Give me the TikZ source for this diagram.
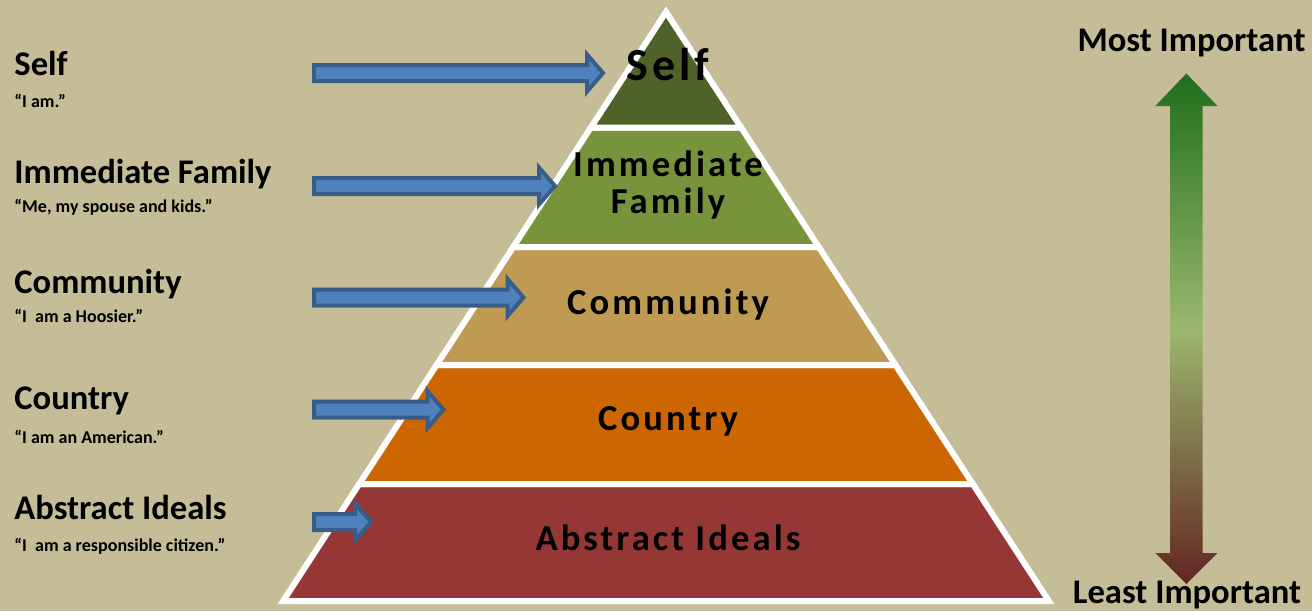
\documentclass[tikz,border=0pt]{standalone}
\usepackage{fontspec}
\setmainfont{Carlito}
\newfontfamily\pyrfont[LetterSpace=8.5]{Carlito}
\definecolor{bg}{RGB}{196,189,151}
\definecolor{cself}{RGB}{79,98,40}
\definecolor{cfam}{RGB}{119,147,60}
\definecolor{ccom}{RGB}{190,154,82}
\definecolor{ccty}{RGB}{204,102,0}
\definecolor{cabs}{RGB}{149,55,53}
\definecolor{bfill}{RGB}{79,129,189}
\definecolor{bline}{RGB}{56,93,138}
\definecolor{gtop}{RGB}{31,110,27}
\definecolor{gmid}{RGB}{155,183,111}
\definecolor{gbot}{RGB}{98,38,34}
\tikzset{
  layer/.style={draw=white, line width=3pt, line join=miter},
  blockarrow/.style={fill=bfill, draw=bline, line width=2pt, line join=miter},
  head/.style={font=\bfseries\fontsize{17.3}{20}\selectfont, anchor=base west, inner sep=0pt},
  sub/.style={font=\bfseries\fontsize{9}{11}\selectfont, anchor=base west, inner sep=0pt},
  side/.style={font=\bfseries\fontsize{17.3}{20}\selectfont, anchor=base, inner sep=0pt},
  pyr/.style={font=\pyrfont\bfseries\fontsize{18.3}{21}\selectfont, anchor=base, inner sep=0pt, text=black},
}
\newcommand{\blockarr}[3]{%
  \coordinate (#3) at (#2-3,#1);
  \draw[blockarrow] (314,#1-8) -- (#2-19,#1-8) -- (#2-19,#1-18.5) -- (#3)
    -- (#2-19,#1+18.5) -- (#2-19,#1+8) -- (314,#1+8) -- cycle;}
\begin{document}
\begin{tikzpicture}[x=0.5pt,y=-0.5pt]
\fill[bg] (0,0) rectangle (1312,611);
\useasboundingbox (0,0) rectangle (1312,611);
% pyramid layers
\filldraw[layer, fill=cabs] (359.2,484) -- (972.8,484) -- (1048.85,601) -- (283.15,601) -- cycle;
\filldraw[layer, fill=ccty] (436.55,365) -- (895.45,365) -- (972.8,484) -- (359.2,484) -- cycle;
\filldraw[layer, fill=ccom] (513.25,247) -- (818.75,247) -- (895.45,365) -- (436.55,365) -- cycle;
\filldraw[layer, fill=cfam] (590.9,127.5) -- (741.1,127.5) -- (818.75,247) -- (513.25,247) -- cycle;
\filldraw[layer, fill=cself] (666,12) -- (741.1,127.5) -- (590.9,127.5) -- cycle;
% blue arrows
\blockarr{73}{606}{a1}
\blockarr{186}{558}{a2}
\blockarr{297.5}{526.5}{a3}
\blockarr{409.7}{446.5}{a4}
\blockarr{522}{374}{a5}
% pyramid texts
\node[pyr, font=\pyrfont\bfseries\fontsize{23}{26}\selectfont] (pself) at (668,80) {Self};
\node[pyr] (pfam1) at (668,176.7) {Immediate};
\node[pyr] (pfam2) at (668,213) {Family};
\node[pyr] (pcom) at (668,314) {Community};
\node[pyr] (pcty) at (668,430) {Country};
\node[pyr] (pabs) at (668,550) {Abstract Ideals};
% left labels
\node[head] (lself) at (14,75) {Self};
\node[sub] (sself) at (14,107) {“I am.”};
\node[head] (lfam) at (14,183) {Immediate Family};
\node[sub] (sfam) at (14,212) {“Me, my spouse and kids.”};
\node[head] (lcom) at (14,293.5) {Community};
\node[sub] (scom) at (14,322) {“I\ \ am a Hoosier.”};
\node[head] (lcty) at (14,409) {Country};
\node[sub] (scty) at (14,443) {“I am an American.”};
\node[head] (labs) at (14,519.5) {Abstract Ideals};
\node[sub] (sabs) at (14,551) {“I\ \ am a responsible citizen.”};
% importance arrow
\path[top color=gtop, bottom color=gbot, middle color=gmid]
  (1186.4,73.5) -- (1217.5,106) -- (1202.7,106) -- (1202.7,553) -- (1217.5,553)
  -- (1186.4,584) -- (1155.3,553) -- (1170,553) -- (1170,106) -- (1155.3,106) -- cycle;
\node[side] (most) at (1191.5,51.7) {Most Important};
\node[side] (least) at (1187,603) {Least Important};
\end{tikzpicture}
\end{document}
